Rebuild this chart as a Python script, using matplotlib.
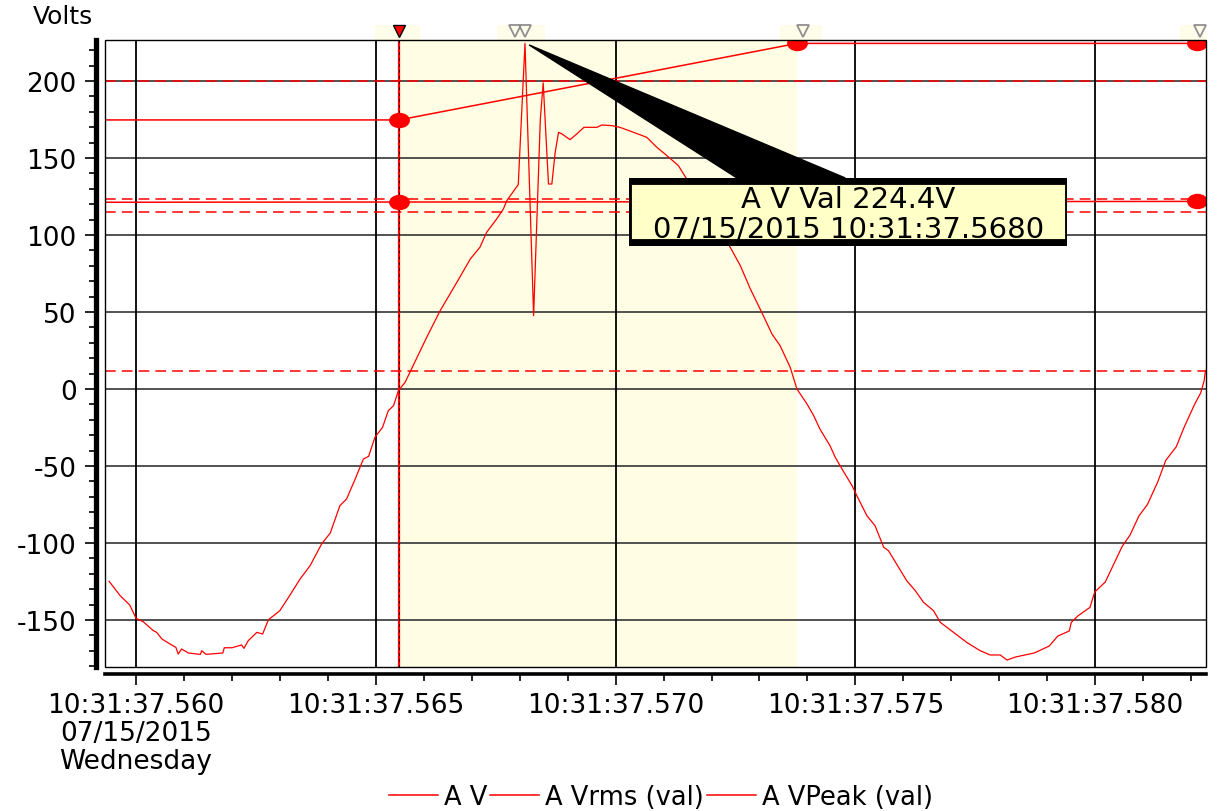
import matplotlib
matplotlib.use('Agg')
import matplotlib.pyplot as plt
from matplotlib.patches import Rectangle, Polygon
from matplotlib.path import Path
from matplotlib.lines import Line2D
from matplotlib.ticker import FixedLocator, MultipleLocator

plt.rcParams['axes.unicode_minus'] = False

# tiempo en ms despues de 10:31:37.560
wave_ms = [-0.56, -0.33, -0.13, 0.0, 0.15, 0.36, 0.43, 0.54, 0.71, 0.83,
           0.88, 0.95, 1.09, 1.34, 1.37, 1.46, 1.81, 1.84, 2.0, 2.2,
           2.25, 2.34, 2.52, 2.64, 2.76, 3.0, 3.21, 3.42, 3.63, 3.87,
           4.05, 4.25, 4.39, 4.57, 4.74, 4.85, 4.98, 5.14, 5.26, 5.37,
           5.47, 5.61, 6.06, 6.34, 6.69, 6.97, 7.17, 7.31, 7.52, 7.66,
           7.73, 7.97, 8.11, 8.29, 8.43, 8.49, 8.6, 8.67, 8.74, 8.81,
           8.88, 9.05, 9.19, 9.34, 9.61, 9.71, 9.92, 10.09, 10.37, 10.65,
           10.86, 11.07, 11.31, 11.48, 12.39, 12.6, 12.81, 13.08, 13.26, 13.43,
           13.64, 13.78, 13.99, 14.13, 14.26, 14.47, 14.58, 14.72, 14.93, 15.03,
           15.24, 15.41, 15.59, 15.69, 15.9, 16.07, 16.25, 16.42, 16.63, 16.77,
           16.91, 17.18, 17.32, 17.6, 17.81, 18.02, 18.16, 18.34, 18.73, 19.04,
           19.22, 19.46, 19.5, 19.64, 19.89, 19.99, 20.21, 20.56, 20.73, 20.91,
           21.09, 21.3, 21.47, 21.69, 21.86, 22.07, 22.2, 22.27, 22.3]
wave_v = [-124.9, -134.2, -140.3, -148.9, -151.1, -156.9, -158.0, -162.3, -165.6, -167.7,
          -172.1, -168.8, -171.4, -172.3, -169.9, -172.3, -171.4, -168.0, -168.0, -166.2,
          -168.4, -163.4, -158.0, -159.1, -149.8, -143.9, -133.8, -123.4, -114.7, -100.6,
          -93.5, -75.8, -71.4, -58.4, -45.5, -43.7, -31.4, -24.9, -14.1, -10.8,
          -1.1, 4.3, 33.5, 50.8, 69.3, 84.4, 92.0, 101.7, 110.4, 116.9,
          122.3, 132.7, 224.4, 47.6, 175.3, 198.7, 133.1, 133.1, 153.7, 166.7,
          165.6, 161.9, 165.6, 169.9, 169.9, 171.4, 171.0, 169.9, 166.7, 163.4,
          156.9, 151.5, 145.0, 136.4, 92.0, 80.1, 64.9, 47.6, 35.7, 28.1,
          14.1, 0.0, -9.7, -17.3, -26.0, -36.8, -44.4, -51.9, -62.8, -69.3,
          -82.3, -88.8, -102.8, -105.0, -115.8, -124.5, -131.0, -138.5, -144.0, -151.5,
          -154.8, -161.2, -164.5, -169.9, -172.7, -172.7, -176.0, -174.0, -171.4, -166.9,
          -160.4, -157.1, -151.6, -147.3, -141.8, -131.8, -125.3, -102.3, -94.6, -82.5,
          -74.9, -60.6, -46.4, -37.5, -24.4, -10.1, -2.5, 5.2, 12.0]

# valores calculados (val)
val_ms = [-3.0, 5.485, 13.785, 22.13, 25.0]
rms_v = [121.2, 121.4, 121.6, 121.8, 121.8]
peak_v = [174.7, 174.7, 224.4, 224.4, 224.4]

# lineas de limite (discontinuas)
limits = [200, 123.4, 114.7, 11.7]

# cursores y seleccion
sel_start, sel_end = 5.485, 13.785
gray_cursors = [7.90, 8.11, 13.9, 22.19]
glow_spans = [(4.99, 5.93), (7.53, 8.53), (13.43, 14.31), (21.77, 22.31)]

# tooltip
tip_time, tip_val = 8.196, 223.4
tip_lines = ["A V Val 224.4V", "07/15/2015 10:31:37.5680"]

x_ticks = [0, 5, 10, 15, 20]
x_labels = ["10:31:37.560\n07/15/2015\nWednesday", "10:31:37.565",
            "10:31:37.570", "10:31:37.575", "10:31:37.580"]
y_ticks = [-150, -100, -50, 0, 50, 100, 150, 200]

RED = '#ff0000'

fig = plt.figure(figsize=(12.2, 8.12), dpi=100)
ax = fig.add_axes([105 / 1220, 1 - 668 / 812, 1101 / 1220, 627 / 812])
ax.set_xlim(-0.647, 22.31)
ax.set_ylim(-180.5, 226.6)

# zona seleccionada
ax.axvspan(sel_start, sel_end, color='#fffde3', zorder=0, lw=0)

# rejilla
for y in y_ticks:
    ax.axhline(y, color='#444444', lw=1.3, zorder=1)
for x in x_ticks:
    ax.axvline(x, color='black', lw=1.3, zorder=1)

# limites
for y in limits:
    ax.axhline(y, color=RED, lw=1.1, ls=(0, (7, 4)), zorder=2)

# cursor rojo
ax.axvline(sel_start, color=RED, lw=1.6, zorder=3)
ax.axvline(sel_start, color='black', lw=0.6, ls=(0, (3, 4)), zorder=3)

# forma de onda
ax.plot(wave_ms, wave_v, color=RED, lw=0.9, zorder=4)

circ = Path.unit_circle()
dot = Path(circ.vertices * [1.0, 0.72], circ.codes)
ax.plot(val_ms, rms_v, color=RED, lw=1.1, marker=dot, ms=14, zorder=5)
ax.plot(val_ms, peak_v, color=RED, lw=1.1, marker=dot, ms=14, zorder=5)

# marco
ax.add_patch(Rectangle((0, 0), 1, 1, transform=ax.transAxes, fill=False,
                       ec='black', lw=1.0, zorder=6, clip_on=False))

# marcadores de cursor arriba
trans = ax.get_xaxis_transform()
for a, b in glow_spans:
    ax.add_patch(Rectangle((a, 1.0), b - a, 0.024, transform=trans,
                           fc='#fefdea', ec='none', clip_on=False, zorder=1))
ax.plot([sel_start], [1.0145], transform=trans, marker='v', ms=9,
        mfc=RED, mec='black', mew=1.0, clip_on=False, zorder=7)
ax.plot(gray_cursors, [1.0145] * len(gray_cursors), transform=trans,
        ls='none', marker='v', ms=9, mfc='none', mec='#909090', mew=1.3,
        clip_on=False, zorder=7)

# tooltip
ax.add_patch(Polygon([(tip_time, tip_val), (14.79, 137.0), (12.53, 137.0)],
                     closed=True, fc='black', ec='black', zorder=8))
ax.add_patch(Rectangle((10.28, 93.05), 19.42 - 10.28, 137.0 - 93.05,
                       fc='black', ec='none', lw=0, zorder=9))
ax.add_patch(Rectangle((10.33, 97.4), 19.38 - 10.33, 133.1 - 97.4,
                       fc='#ffffc8', ec='black', lw=0.6, zorder=10))
ax.text(14.85, 123.6, tip_lines[0], ha='center', va='center',
        fontsize=21, zorder=11)
ax.text(14.85, 104.0, tip_lines[1], ha='center', va='center',
        fontsize=21, zorder=11)

# ejes
for s in ['top', 'right']:
    ax.spines[s].set_visible(False)
ax.spines['left'].set_position(('outward', 6.5))
ax.spines['left'].set_linewidth(3.8)
ax.spines['bottom'].set_position(('outward', 5))
ax.spines['bottom'].set_linewidth(2.6)

ax.xaxis.set_major_locator(FixedLocator(x_ticks))
ax.set_xticklabels(x_labels)
ax.xaxis.set_minor_locator(MultipleLocator(1))
ax.yaxis.set_major_locator(FixedLocator(y_ticks))
ax.yaxis.set_minor_locator(MultipleLocator(10))
ax.tick_params(axis='both', which='major', direction='out', length=8,
               width=1.2, labelsize=19)
ax.tick_params(axis='both', which='minor', direction='out', length=5, width=1.2)
ax.tick_params(axis='x', which='major', pad=5)
ax.tick_params(axis='y', which='major', pad=6)
for lab in ax.get_xticklabels():
    lab.set_linespacing(1.1)

fig.text(33 / 1220, 1 - 24 / 812, 'Volts', fontsize=18, va='baseline')

handles = [Line2D([], [], color=RED, lw=1.1) for _ in range(3)]
fig.legend(handles, ['A V', 'A Vrms (val)', 'A VPeak (val)'], ncol=3,
           loc='center', bbox_to_anchor=(661 / 1220, 1 - 798 / 812),
           frameon=False, fontsize=18.5, handlelength=1.9, handletextpad=0.25,
           columnspacing=0.1, borderaxespad=0)

fig.savefig('out.png', dpi=100)
